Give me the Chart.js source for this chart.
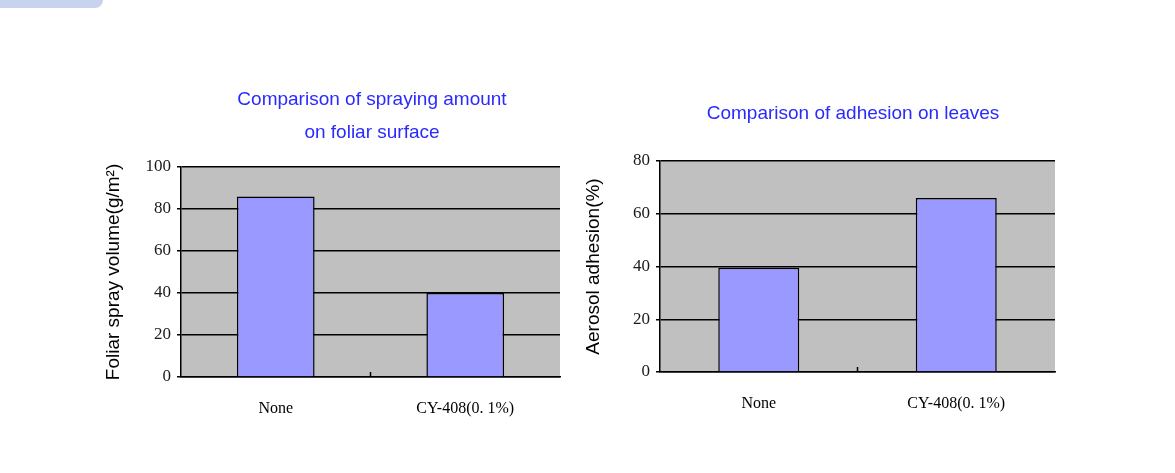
<!DOCTYPE html>
<html><head><meta charset="utf-8">
<script src="https://cdn.jsdelivr.net/npm/chart.js@4"></script>
<style>
body{margin:0;background:#fff;width:1175px;height:473px;overflow:hidden;position:relative}
.tab{position:absolute;left:-10px;top:-10px;width:113px;height:18px;background:#c8d4ee;border-radius:8px}
.box{position:absolute}
</style></head><body>
<div class="tab"></div>
<div class="box" style="left:100px;top:80px;width:470px;height:360px"><canvas id="c1"></canvas></div>
<div class="box" style="left:580px;top:80px;width:485px;height:355px"><canvas id="c2"></canvas></div>
<script>
const categories = ["None", "CY-408(0. 1%)"];
const sprayValues = [86, 40];
const adhesionValues = [39.5, 66];
const sprayTicks = [0, 20, 40, 60, 80, 100];
const adhesionTicks = [0, 20, 40, 60, 80];

const bgPlugin = {
  id: 'bg',
  beforeDraw(chart) {
    const a = chart.chartArea, ctx = chart.ctx;
    ctx.save(); ctx.fillStyle = '#c0c0c0';
    ctx.fillRect(a.left, a.top, a.right - a.left, a.bottom - a.top);
    ctx.restore();
  },
  afterDraw(chart) {
    const a = chart.chartArea, ctx = chart.ctx;
    ctx.save(); ctx.strokeStyle = '#000'; ctx.lineWidth = 1.5;
    const mx = (a.left + a.right) / 2;
    ctx.beginPath(); ctx.moveTo(mx, a.bottom); ctx.lineTo(mx, a.bottom - 5); ctx.stroke();
    const o = chart.options.plugins.bg;
    ctx.fillStyle = '#2a2aff'; ctx.font = '19px "Liberation Sans", Arial'; ctx.textAlign = 'center'; ctx.textBaseline = 'middle';
    o.lines.forEach((t, i) => ctx.fillText(t, o.cx, o.y0 + i * 33));
    ctx.restore();
  }
};

function make(id, values, ticks, yTitle, titleLines, yw, xh, padTop, cx, y0, max) {
  new Chart(document.getElementById(id), {
    type: 'bar',
    data: { labels: categories, datasets: [{ data: values, backgroundColor: '#9999ff', borderColor: '#000', borderWidth: 1.5, categoryPercentage: 0.82, barPercentage: 0.5 }] },
    options: {
      responsive: true, maintainAspectRatio: false, animation: false,
      layout: { padding: { top: padTop, right: 10, left: 0, bottom: 0 } },
      plugins: { legend: { display: false }, tooltip: { enabled: false }, bg: { lines: titleLines, cx: cx, y0: y0 } },
      scales: {
        x: {
          grid: { display: false }, border: { color: '#000', width: 1.5 },
          ticks: { color: '#000', font: { family: '"Liberation Serif", serif', size: 16 }, padding: 14 },
          afterFit(s) { s.height = xh; }
        },
        y: {
          min: 0, max: max,
          afterBuildTicks(s) { s.ticks = ticks.map(v => ({ value: v })); },
          grid: { color: '#000', lineWidth: 1.5, drawTicks: true, tickLength: 4 },
          border: { color: '#000', width: 1.5 },
          ticks: { color: '#1a1a1a', font: { family: '"Liberation Serif", serif', size: 17 }, padding: 6 },
          title: { display: true, text: yTitle, color: '#000', font: { family: '"Liberation Sans", Arial', size: 19 }, padding: 2 },
          afterFit(s) { s.width = yw; }
        }
      }
    },
    plugins: [bgPlugin]
  });
}
make('c1', sprayValues, sprayTicks, 'Foliar spray volume(g/m²)', ['Comparison of spraying amount', 'on foliar surface'], 81, 63, 87, 272, 20, 100);
make('c2', adhesionValues, adhesionTicks, 'Aerosol adhesion(%)', ['Comparison of adhesion on leaves'], 80, 63, 81, 273, 34, 80);
</script>
</body></html>
